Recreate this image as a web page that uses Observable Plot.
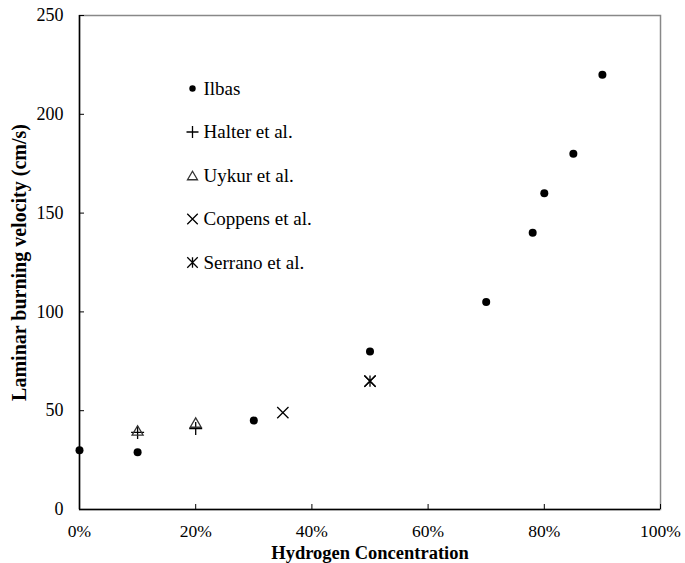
<!DOCTYPE html>
<html>
<head>
<meta charset="utf-8">
<script src="https://cdn.jsdelivr.net/npm/d3@7"></script>
<script src="https://cdn.jsdelivr.net/npm/@observablehq/plot@0.6"></script>
<style>
  html, body { margin: 0; padding: 0; background: #fff; }
  #chart { width: 685px; height: 563px; }
  #chart svg, #chart svg text { font-family: "Liberation Serif", "DejaVu Serif", serif !important; }
</style>
</head>
<body>
<div id="chart"></div>
<script>
// ---- Data ----
const ilbasX   = [0, 0.10, 0.30, 0.50, 0.70, 0.78, 0.80, 0.85, 0.90];
const ilbasY   = [30, 29, 45, 80, 105, 140, 160, 180, 220];
const halterX  = [0.10, 0.20];
const halterY  = [39, 41];
const uykurX   = [0.10, 0.20];
const uykurY   = [40, 44];
const coppensX = [0.35, 0.50];
const coppensY = [49, 65];
const serranoX = [0.50];
const serranoY = [65];

const seriesNames = ["Ilbas", "Halter et al.", "Uykur et al.", "Coppens et al.", "Serrano et al."];
const xTicks = [0, 0.2, 0.4, 0.6, 0.8, 1.0];
const yTicks = [0, 50, 100, 150, 200, 250];
const xTitle = "Hydrogen Concentration";
const yTitle = "Laminar burning velocity (cm/s)";

// ---- custom marker shapes ----
const rad = s => Math.sqrt(s / Math.PI);
const symPlus = {draw(c, s) { const r = rad(s); c.moveTo(-r, 0); c.lineTo(r, 0); c.moveTo(0, -r); c.lineTo(0, r); }};
const symTimes = {draw(c, s) { const r = rad(s) * 0.75; c.moveTo(-r, -r); c.lineTo(r, r); c.moveTo(-r, r); c.lineTo(r, -r); }};
const symTri = {draw(c, s) { const r = rad(s); const h = r * 1.7; c.moveTo(0, -h / 2); c.lineTo(r, h / 2); c.lineTo(-r, h / 2); c.closePath(); }};
const symAst = {draw(c, s) { const r = rad(s) * 0.75; c.moveTo(-r, -r); c.lineTo(r, r); c.moveTo(-r, r); c.lineTo(r, -r); c.moveTo(0, -r); c.lineTo(0, r); }};

const zip = (xs, ys) => xs.map((x, i) => ({x, y: ys[i]}));
const ilbas = zip(ilbasX, ilbasY);
const halter = zip(halterX, halterY);
const uykur = zip(uykurX, uykurY);
const coppens = zip(coppensX, coppensY);
const serrano = zip(serranoX, serranoY);

const styles = [
  {symbol: "circle", fill: "black", stroke: "none", r: 4, lr: 3.2},
  {symbol: symPlus, fill: "none", stroke: "black", r: 6.5, lr: 6},
  {symbol: symTri, fill: "none", stroke: "#333", r: 5.5, lr: 5},
  {symbol: symTimes, fill: "none", stroke: "black", r: 7.5, lr: 7},
  {symbol: symAst, fill: "none", stroke: "black", r: 7.5, lr: 7}
];
const seriesData = [ilbas, halter, uykur, coppens, serrano];

const font = "'Liberation Serif', 'DejaVu Serif', serif";

const marks = [
  Plot.frame({stroke: "#888", strokeWidth: 1.5}),
  Plot.ruleX([0], {stroke: "black", strokeWidth: 1.5}),
  Plot.ruleY([0], {stroke: "black", strokeWidth: 1.5}),
  Plot.axisY(yTicks, {tickSize: -5, tickPadding: 21, fontSize: 18, fontFamily: font, fill: "black", label: null, stroke: "black"}),
  Plot.axisX(xTicks, {tickSize: -5, tickPadding: 20, fontSize: 17.5, fontFamily: font, fill: "black", label: null, tickFormat: d3.format(".0%"), stroke: "black"}),
  Plot.text([xTitle], {frameAnchor: "bottom", dy: 44, text: d => d, fontSize: 18.5, fontWeight: "bold", fontFamily: font, fill: "black", textAnchor: "middle", lineAnchor: "middle"}),
  Plot.text([yTitle], {frameAnchor: "left", dx: -60, rotate: -90, text: d => d, fontSize: 20, fontWeight: "bold", fontFamily: font, fill: "black", textAnchor: "middle", lineAnchor: "middle"})
];

seriesData.forEach((data, i) => {
  const st = styles[i];
  marks.push(Plot.dot(data, {x: "x", y: "y", symbol: () => st.symbol, r: st.r, fill: st.fill, stroke: st.stroke, strokeWidth: 1.3}));
});

// legend inside the plot frame
seriesNames.forEach((name, i) => {
  const st = styles[i];
  marks.push(Plot.dot([name], {frameAnchor: "top-left", dx: 113, dy: 73 + i * 43.5, symbol: () => st.symbol, r: st.lr, fill: st.fill, stroke: st.stroke, strokeWidth: 1.3}));
  marks.push(Plot.text([name], {frameAnchor: "top-left", dx: 124, dy: 73 + i * 43.5, text: d => d, textAnchor: "start", lineAnchor: "middle", fontSize: 19, fontFamily: font, fill: "black"}));
});

const chart = Plot.plot({
  width: 685,
  height: 563,
  marginLeft: 79,
  marginRight: 25,
  marginTop: 15,
  marginBottom: 54,
  style: {fontFamily: font, background: "white", color: "black"},
  x: {domain: [0, 1]},
  y: {domain: [0, 250]},
  symbol: {type: "identity"},
  marks
});
document.getElementById("chart").appendChild(chart);
</script>
</body>
</html>
